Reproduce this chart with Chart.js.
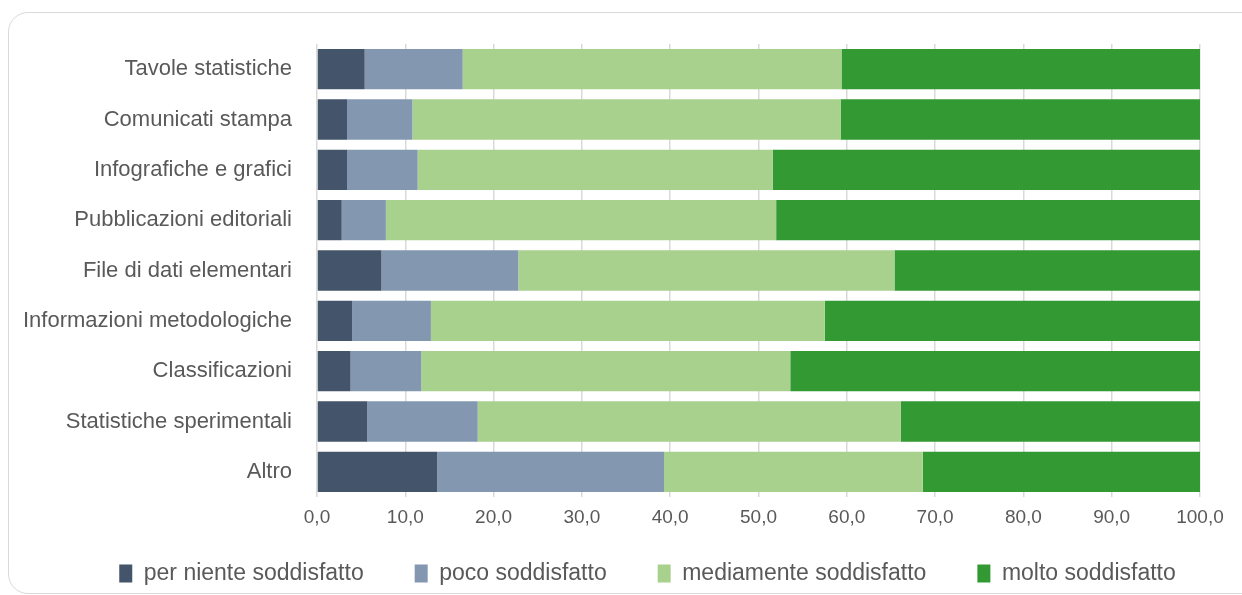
<!DOCTYPE html>
<html>
<head>
<meta charset="utf-8">
<script src="https://cdn.jsdelivr.net/npm/chart.js@4"></script>
<style>
  html, body { margin: 0; padding: 0; background: #fff; overflow: hidden; }
  .frame {
    position: absolute; left: 8px; top: 12px; width: 1260px; height: 580px;
    border: 1.5px solid #d9d9d9; border-radius: 20px;
  }
  .wrap { position: absolute; left: 0; top: 0; width: 1242px; height: 595px; }
</style>
</head>
<body>
<div class="frame"></div>
<div class="wrap"><canvas id="satisfactionChart"></canvas></div>
<script>
// Categories and series (percentages)
const categories = [
  "Tavole statistiche",
  "Comunicati stampa",
  "Infografiche e grafici",
  "Pubblicazioni editoriali",
  "File di dati elementari",
  "Informazioni metodologiche",
  "Classificazioni",
  "Statistiche sperimentali",
  "Altro",
];
const seriesNames = [
  "per niente soddisfatto",
  "poco soddisfatto",
  "mediamente soddisfatto",
  "molto soddisfatto",
];
const perNiente = [5.4, 3.4, 3.4, 2.8, 7.3, 4.0, 3.8, 5.7, 13.6];
const poco = [11.1, 7.4, 8.0, 5.0, 15.5, 8.9, 8.0, 12.5, 25.7];
const mediamente = [42.9, 48.5, 40.2, 44.2, 42.6, 44.6, 41.8, 47.9, 29.3];
const molto = [40.6, 40.7, 48.4, 48.0, 34.6, 42.5, 46.4, 33.9, 31.4];
const xTicks = [0, 10, 20, 30, 40, 50, 60, 70, 80, 90, 100];

const colors = ["#44546A", "#8497B0", "#A9D18E", "#339933"];
const textColor = "#595959";
const fontFamily = "'Liberation Sans', Arial, sans-serif";

document.addEventListener("DOMContentLoaded", function () {
  const ctx = document.getElementById("satisfactionChart").getContext("2d");

  const values = [perNiente, poco, mediamente, molto];

  // move the legend row under the plot (it is centred a bit right of the canvas centre)
  const legendPlacement = {
    id: "legendPlacement",
    afterLayout: function (chart) {
      const legend = chart.legend;
      if (!legend) return;
      legend.top = 511;
      legend.height = 84;
      legend.bottom = legend.top + legend.height;
      legend.left += 47.5;
      legend.right += 47.5;
    },
  };

  new Chart(ctx, {
    type: "bar",
    data: {
      labels: categories,
      datasets: seriesNames.map((name, i) => ({
        label: name,
        data: values[i],
        backgroundColor: colors[i],
        borderWidth: 0,
        categoryPercentage: 0.8,
        barPercentage: 1.0,
      })),
    },
    plugins: [legendPlacement],
    options: {
      indexAxis: "y",
      responsive: true,
      maintainAspectRatio: false,
      animation: false,
      layout: {
        padding: { top: 44, right: 42, left: 0, bottom: 0 },
      },
      plugins: {
        legend: {
          position: "bottom",
          maxHeight: 66,
          labels: {
            boxWidth: 13,
            boxHeight: 18,
            padding: 51,
            color: textColor,
            font: { family: fontFamily, size: 23 },
          },
        },
        tooltip: { enabled: false },
      },
      scales: {
        x: {
          stacked: true,
          min: 0,
          max: 100,
          afterBuildTicks: (scale) => {
            scale.ticks = xTicks.map((v) => ({ value: v }));
          },
          afterFit: (scale) => {
            scale.height = 32;
          },
          grid: {
            color: "#d9d9d9",
            lineWidth: 1.5,
            drawTicks: false,
          },
          border: { display: false },
          ticks: {
            padding: 9,
            color: textColor,
            font: { family: fontFamily, size: 19 },
            callback: (value) => value.toFixed(1).replace(".", ","),
          },
        },
        y: {
          stacked: true,
          afterFit: (scale) => {
            scale.width = 317;
          },
          grid: { display: false, drawTicks: false },
          border: { display: false },
          ticks: {
            padding: 25,
            color: textColor,
            font: { family: fontFamily, size: 22 },
          },
        },
      },
    },
  });
});
</script>
</body>
</html>
